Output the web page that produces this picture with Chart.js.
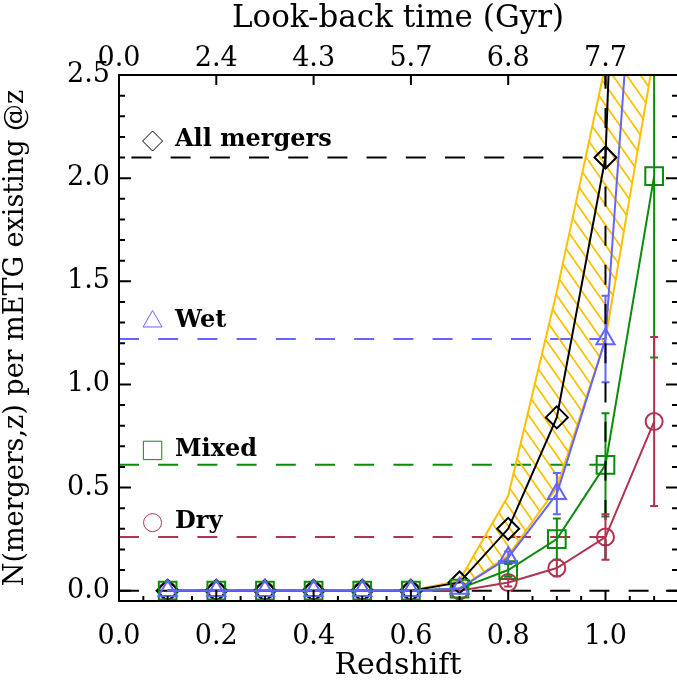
<!DOCTYPE html>
<html>
<head>
<meta charset="utf-8">
<script src="https://cdn.jsdelivr.net/npm/chart.js@4.4.0/dist/chart.umd.min.js"></script>
<style>
  html, body { margin: 0; padding: 0; background: #fff; }
  #wrap { width: 677px; height: 682px; }
</style>
</head>
<body>
<div id="wrap"><canvas id="chart" width="677" height="682"></canvas></div>
<script>
// ── Data ─────────────────────────────────────────────────────
const redshift   = [0.1, 0.2, 0.3, 0.4, 0.5, 0.6, 0.7, 0.8, 0.9, 1.0, 1.1];
const allMergers = [0, 0, 0, 0, 0, 0, 0.04, 0.30, 0.84, 2.10, 8.5];
const allErr     = [0, 0, 0, 0, 0, 0, 0, 0, 0, 1.95, 0];
const wet        = [0, 0, 0, 0, 0, 0, 0.01, 0.16, 0.47, 1.22, 4.5];
const wetErr     = [0, 0, 0, 0, 0, 0, 0, 0.03, 0.10, 0.21, 0];
const mixed      = [0, 0, 0, 0, 0, 0, 0.01, 0.10, 0.25, 0.61, 2.01];
const mixedErr   = [0, 0, 0, 0, 0, 0, 0, 0.03, 0.10, 0.25, 0.88];
const dry        = [0, 0, 0, 0, 0, 0, 0, 0.04, 0.11, 0.26, 0.82];
const dryErr     = [0, 0, 0, 0, 0, 0, 0, 0.02, 0.04, 0.11, 0.41];
const bandLow    = [0, 0, 0, 0, 0, 0, 0.01, 0.17, 0.50, 1.22, 2.6];
const bandHigh   = [0, 0, 0, 0, 0, 0, 0.05, 0.46, 1.45, 2.55, 10];

// horizontal reference levels (value at z = 1.0) and where they stop
const refLevels  = [2.10, 1.22, 0.61, 0.26, 0.0];
const refEnds    = [1.0, 1.0, 1.0, 1.0, 1.15];

const lookbackLabels = ['0.0', '2.4', '4.3', '5.7', '6.8', '7.7'];
const legendLabels   = ['All mergers', 'Wet', 'Mixed', 'Dry'];
const legendLevels   = [2.18, 1.305, 0.68, 0.33];

// ── Styles ───────────────────────────────────────────────────
const BLACK  = '#000000';
const BLUE   = '#6464ff';
const GREEN  = '#0a8c0a';
const RED    = '#b03352';
const YELLOW = 'rgb(255,192,0)';
const FONT   = '"DejaVu Serif", "Liberation Serif", serif';
const DASH   = [20, 19.2];

const pts = arr => redshift.map((z, i) => ({ x: z, y: arr[i] }));

function hatch(color) {
    const w = 14, h = 20;
    const c = document.createElement('canvas');
    c.width = w; c.height = h;
    const g = c.getContext('2d');
    g.strokeStyle = color;
    g.lineWidth = 1.8;
    g.beginPath();
    [-w, 0, w].forEach(o => { g.moveTo(o, 0); g.lineTo(o + w, h); });
    g.stroke();
    return g.createPattern(c, 'repeat');
}

function series(label, arr, err, color, style, radius, extra) {
    return Object.assign({
        label: label,
        data: pts(arr),
        errors: err,
        borderColor: color,
        backgroundColor: 'rgba(0,0,0,0)',
        borderWidth: 2,
        pointStyle: style,
        pointRadius: radius,
        pointBorderWidth: 2,
        pointBorderColor: color,
        pointBackgroundColor: 'rgba(0,0,0,0)',
        tension: 0,
    }, extra || {});
}

function refLine(level, end, color, offset) {
    return {
        data: [{ x: 0, y: level }, { x: end, y: level }],
        borderColor: color,
        borderWidth: 2,
        borderDash: DASH,
        borderDashOffset: offset,
        pointRadius: 0,
        fill: false,
    };
}

// ── Plugin: error bars from dataset.errors ───────────────────
const errorBars = {
    id: 'errorBars',
    afterDatasetsDraw(chart) {
        const { ctx, chartArea: a, scales: { y } } = chart;
        ctx.save();
        ctx.beginPath();
        ctx.rect(a.left, a.top, a.right - a.left, a.bottom - a.top);
        ctx.clip();
        chart.data.datasets.forEach((ds, di) => {
            if (!ds.errors) return;
            const meta = chart.getDatasetMeta(di);
            ctx.strokeStyle = ds.borderColor;
            ctx.lineWidth = 2;
            ctx.setLineDash(ds.errDash || []);
            ds.errors.forEach((e, i) => {
                if (!e) return;
                const px  = meta.data[i].x;
                const v   = ds.data[i].y;
                const top = y.getPixelForValue(v + e);
                const bot = y.getPixelForValue(v - e);
                ctx.beginPath();
                ctx.moveTo(px, top);
                ctx.lineTo(px, bot);
                if (!ds.errDash) {
                    ctx.moveTo(px - 4, top); ctx.lineTo(px + 4, top);
                    ctx.moveTo(px - 4, bot); ctx.lineTo(px + 4, bot);
                }
                ctx.stroke();
            });
        });
        ctx.restore();
    }
};

// ── Plugin: IDL style box with inward ticks ──────────────────
const frameTicks = {
    id: 'frameTicks',
    afterDatasetsDraw(chart) {
        const { ctx, chartArea: a, scales: { x, y } } = chart;
        const right = x.getPixelForValue(x.max);
        ctx.save();
        ctx.strokeStyle = BLACK;
        ctx.lineWidth = 2;
        ctx.setLineDash([]);
        ctx.beginPath();
        ctx.moveTo(right + 2, a.top);
        ctx.lineTo(a.left, a.top);
        ctx.lineTo(a.left, a.bottom);
        ctx.lineTo(right + 2, a.bottom);

        for (let i = 0; i * 0.05 <= x.max + 1e-9; i++) {
            const px = x.getPixelForValue(i * 0.05);
            const major = i % 4 === 0;
            ctx.moveTo(px, a.bottom);
            ctx.lineTo(px, a.bottom - (major ? 11 : 5));
            if (major) {
                ctx.moveTo(px, a.top);
                ctx.lineTo(px, a.top + 10);
            }
        }
        for (let i = 0; i * 0.1 <= y.max + 1e-9; i++) {
            const py = y.getPixelForValue(i * 0.1);
            const major = i % 5 === 0;
            ctx.moveTo(a.left, py);
            ctx.lineTo(a.left + (major ? 12 : 6), py);
            ctx.moveTo(right + 1, py);
            ctx.lineTo(right + 1 - (major ? 12 : 6), py);
        }
        ctx.stroke();
        ctx.restore();
    }
};

// ── Plugin: in-plot legend ───────────────────────────────────
const inLegend = {
    id: 'inLegend',
    afterDraw(chart) {
        const { ctx, scales: { x, y } } = chart;
        const styles = [
            { pointStyle: 'rectRot',  radius: 10, color: BLACK },
            { pointStyle: 'triangle', radius: 11, color: BLUE },
            { pointStyle: 'rect',     radius: 13, color: GREEN },
            { pointStyle: 'circle',   radius: 9,  color: RED },
        ];
        ctx.save();
        ctx.font = 'bold 24px ' + FONT;
        ctx.textBaseline = 'middle';
        ctx.textAlign = 'left';
        legendLabels.forEach((txt, i) => {
            const px = x.getPixelForValue(0.069);
            const py = y.getPixelForValue(legendLevels[i]);
            const s = styles[i];
            ctx.strokeStyle = s.color;
            ctx.fillStyle = 'rgba(0,0,0,0)';
            Chart.helpers.drawPoint(ctx, {
                pointStyle: s.pointStyle, radius: s.radius, rotation: 0, borderWidth: 2
            }, px, py);
            ctx.fillStyle = BLACK;
            ctx.fillText(txt, x.getPixelForValue(0.115), py - 1);
        });
        ctx.restore();
    }
};

const tickFont  = { family: FONT, size: 27 };
const titleFont = { family: FONT, size: 30 };

// fixed box sizes so the plot frame sits where the original one does
function fixHoriz(h) {
    return s => { s.height = h; s.paddingLeft = 0; s.paddingRight = 0; };
}

new Chart(document.getElementById('chart').getContext('2d'), {
    type: 'line',
    data: {
        datasets: [
            series('Wet', wet, wetErr, BLUE, 'triangle', 10.5),
            series('Mixed', mixed, mixedErr, GREEN, 'rect', 12.5),
            series('All mergers', allMergers, allErr, BLACK, 'rectRot', 11, { errDash: DASH }),
            series('Dry', dry, dryErr, RED, 'circle', 8.5),
            {
                data: pts(bandHigh),
                borderColor: YELLOW,
                borderWidth: 2,
                backgroundColor: hatch(YELLOW),
                pointRadius: 0,
                fill: '+1',
            },
            {
                data: pts(bandLow),
                borderColor: YELLOW,
                borderWidth: 2,
                pointRadius: 0,
                fill: false,
            },
            refLine(refLevels[0], refEnds[0], BLACK, 26.8),
            refLine(refLevels[1], refEnds[1], BLUE, 0),
            refLine(refLevels[2], refEnds[2], GREEN, 0),
            refLine(refLevels[3], refEnds[3], RED, 0),
            refLine(refLevels[4], refEnds[4], BLACK, 0),
        ]
    },
    options: {
        responsive: false,
        animation: false,
        events: [],
        layout: { padding: 0, autoPadding: false },
        plugins: {
            legend: { display: false },
            tooltip: { enabled: false },
        },
        scales: {
            x: {
                type: 'linear',
                position: 'bottom',
                min: 0,
                max: 1.147,
                afterFit: fixHoriz(81),
                grid: { display: false, drawTicks: false },
                border: { display: false },
                ticks: {
                    stepSize: 0.2,
                    includeBounds: false,
                    autoSkip: false,
                    maxRotation: 0,
                    padding: 20,
                    color: BLACK,
                    font: tickFont,
                    callback: v => v.toFixed(1),
                },
                title: {
                    display: true,
                    text: 'Redshift',
                    color: BLACK,
                    font: titleFont,
                    padding: { top: 0, bottom: -2 },
                },
            },
            x2: {
                type: 'linear',
                position: 'top',
                min: 0,
                max: 1.147,
                afterFit: fixHoriz(75),
                grid: { display: false, drawTicks: false },
                border: { display: false },
                ticks: {
                    stepSize: 0.2,
                    includeBounds: false,
                    autoSkip: false,
                    maxRotation: 0,
                    padding: 0,
                    color: BLACK,
                    font: tickFont,
                    callback: v => lookbackLabels[Math.round(v / 0.2)],
                },
                title: {
                    display: true,
                    text: 'Look-back time (Gyr)',
                    color: BLACK,
                    font: { family: FONT, size: 31 },
                    padding: { top: 0, bottom: 0 },
                },
            },
            y: {
                type: 'linear',
                position: 'left',
                min: -0.05,
                max: 2.5,
                afterFit: s => { s.width = 119; },
                grid: { display: false, drawTicks: false },
                border: { display: false },
                ticks: {
                    stepSize: 0.5,
                    includeBounds: false,
                    padding: 9,
                    color: BLACK,
                    font: tickFont,
                    callback: v => v.toFixed(1),
                },
                title: {
                    display: true,
                    text: 'N(mergers,z) per mETG existing @z',
                    color: BLACK,
                    font: { family: FONT, size: 27 },
                    padding: { top: 0, bottom: 3 },
                },
            },
        },
    },
    plugins: [errorBars, frameTicks, inLegend],
});
</script>
</body>
</html>
